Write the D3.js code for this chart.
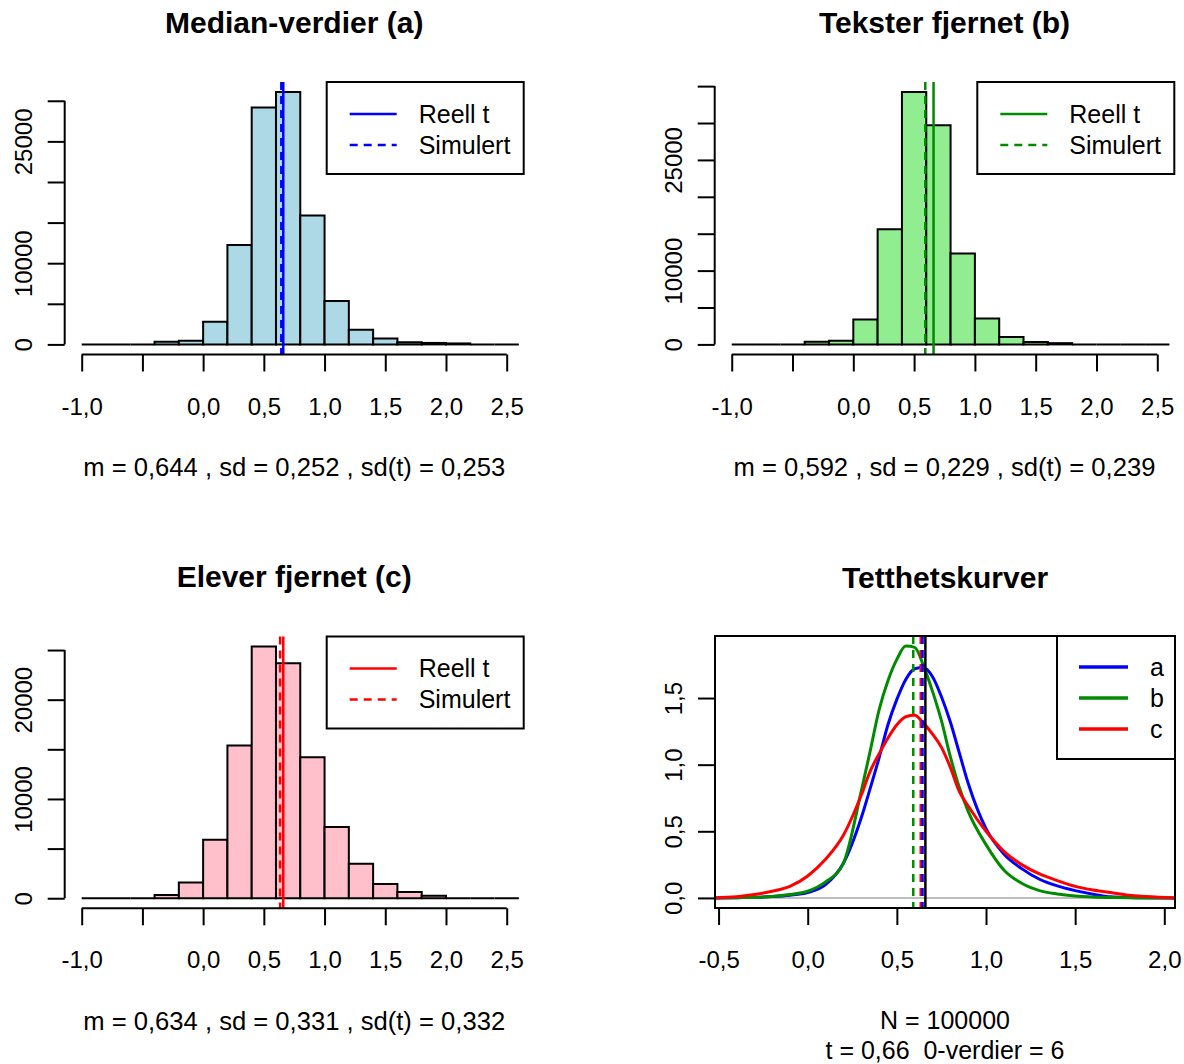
<!DOCTYPE html>
<html>
<head>
<meta charset="utf-8">
<script src="https://cdn.jsdelivr.net/npm/d3@7"></script>
<style>
  body { margin: 0; background: #ffffff; }
  svg text { font-family: "Liberation Sans", Arial, sans-serif; fill: #000; }
</style>
</head>
<body>
<svg id="chart" width="1184" height="1064"></svg>
<script>
// ---- Histogram bins (width 0.2) and counts per scenario ----
const binEdges = [-1.0, -0.8, -0.6, -0.4, -0.2, 0.0, 0.2, 0.4, 0.6, 0.8, 1.0, 1.2, 1.4, 1.6, 1.8, 2.0, 2.2, 2.4, 2.6];
const countsA = [0, 0, 0, 320, 440, 2790, 12240, 29170, 31070, 15860, 5340, 1800, 740, 280, 180, 120, 0, 0];
const countsB = [0, 0, 0, 350, 490, 3380, 15600, 34190, 29690, 12320, 3520, 990, 330, 170, 0, 0, 0, 0];
const countsC = [0, 0, 0, 330, 1580, 5890, 15380, 25350, 23670, 14200, 7170, 3470, 1440, 640, 260, 0, 0, 0];

// ---- Histogram axes ----
const histXTicks = [-1.0, -0.5, 0.0, 0.5, 1.0, 1.5, 2.0, 2.5];
const histXLabels = ["-1,0", "", "0,0", "0,5", "1,0", "1,5", "2,0", "2,5"];
const yTicksA = [0, 5000, 10000, 15000, 20000, 25000, 30000];
const yLabelsA = ["0", "", "10000", "", "", "25000", ""];
const yTicksB = [0, 5000, 10000, 15000, 20000, 25000, 30000, 35000];
const yLabelsB = ["0", "", "10000", "", "", "25000", "", ""];
const yTicksC = [0, 5000, 10000, 15000, 20000, 25000];
const yLabelsC = ["0", "", "10000", "", "20000", ""];

// ---- Summary statistics (a, b, c) ----
const simMeans = [0.644, 0.592, 0.634];
const simSd = [0.252, 0.229, 0.331];
const tSd = [0.253, 0.239, 0.332];
const tReal = 0.66;
const nSim = 100000;
const zeroCount = 6;

// ---- Density curves ----
const densX = [-0.52, -0.4, -0.3, -0.2, -0.1, 0.0, 0.1, 0.2, 0.3, 0.35, 0.4, 0.45, 0.5, 0.55, 0.6, 0.65, 0.7, 0.75, 0.8, 0.85, 0.9, 1.0, 1.1, 1.2, 1.3, 1.4, 1.5, 1.6, 1.7, 1.8, 1.9, 2.06];
const densA = [0, 0.002, 0.005, 0.01, 0.02, 0.04, 0.10, 0.26, 0.60, 0.82, 1.05, 1.30, 1.49, 1.64, 1.72, 1.73, 1.66, 1.51, 1.32, 1.09, 0.86, 0.52, 0.33, 0.22, 0.14, 0.09, 0.055, 0.028, 0.008, 0.003, 0.001, 0];
const densB = [0, 0.002, 0.004, 0.01, 0.025, 0.05, 0.12, 0.26, 0.80, 1.10, 1.41, 1.63, 1.79, 1.89, 1.88, 1.74, 1.55, 1.33, 1.06, 0.83, 0.65, 0.40, 0.21, 0.11, 0.055, 0.03, 0.015, 0.007, 0.003, 0.001, 0, 0];
const densC = [0, 0.008, 0.025, 0.05, 0.087, 0.165, 0.29, 0.47, 0.77, 0.95, 1.08, 1.20, 1.30, 1.36, 1.37, 1.31, 1.23, 1.13, 0.98, 0.80, 0.69, 0.50, 0.35, 0.25, 0.18, 0.13, 0.087, 0.06, 0.04, 0.02, 0.01, 0];
const densXTicks = [-0.5, 0.0, 0.5, 1.0, 1.5, 2.0];
const densXLabels = ["-0,5", "0,0", "0,5", "1,0", "1,5", "2,0"];
const densYTicks = [0.0, 0.5, 1.0, 1.5];
const densYLabels = ["0,0", "0,5", "1,0", "1,5"];
const densNames = ["a", "b", "c"];

// ---- Styling ----
const TICK_FS = 24, TEXT_FS = 25, TITLE_FS = 30, TICK_LEN = 17;
const lineCols = ["#0000FF", "#008B00", "#FF0000"];
const fillCols = ["#ADD8E6", "#90EE90", "#FFC0CB"];
const DASH = "8,6";

const svg = d3.select("#chart");
const comma = (v, d) => d3.format(`.${d}f`)(v).replace(".", ",");

function bottomAxis(g, x, yPos, ticks, labels) {
  const ax = g.append("g").attr("transform", `translate(0,${yPos})`)
    .call(d3.axisBottom(x).tickValues(ticks).tickFormat((d, i) => labels[i])
      .tickSize(TICK_LEN).tickPadding(26));
  ax.select(".domain").remove();
  ax.selectAll("line").attr("stroke", "#000").attr("stroke-width", 2);
  ax.selectAll("text").attr("font-size", TICK_FS).attr("font-family", null);
  g.append("line").attr("x1", x(ticks[0])).attr("x2", x(ticks[ticks.length - 1]))
    .attr("y1", yPos).attr("y2", yPos).attr("stroke", "#000").attr("stroke-width", 2);
}

function leftAxis(g, y, xPos, ticks, labels) {
  const ax = g.append("g").attr("transform", `translate(${xPos},0)`)
    .call(d3.axisLeft(y).tickValues(ticks).tickFormat((d, i) => labels[i]).tickSize(TICK_LEN));
  ax.select(".domain").remove();
  ax.selectAll("line").attr("stroke", "#000").attr("stroke-width", 2);
  ax.selectAll("text").attr("font-size", TICK_FS).attr("font-family", null)
    .attr("x", null).attr("dy", null).attr("text-anchor", "middle")
    .attr("transform", `translate(${-41 + 0.35 * TICK_FS},0) rotate(-90)`);
  g.append("line").attr("x1", xPos).attr("x2", xPos)
    .attr("y1", y(ticks[0])).attr("y2", y(ticks[ticks.length - 1]))
    .attr("stroke", "#000").attr("stroke-width", 2);
}

function legend(g, right, top, w, h, items, opt) {
  const left = right - w;
  g.append("rect").attr("x", left).attr("y", top).attr("width", w).attr("height", h)
    .attr("fill", "#fff").attr("stroke", "#000").attr("stroke-width", 2);
  items.forEach((it, i) => {
    const yy = top + opt.row0 + i * opt.rowStep;
    g.append("line").attr("x1", left + opt.l0).attr("x2", left + opt.l1)
      .attr("y1", yy).attr("y2", yy).attr("stroke", it.color)
      .attr("stroke-width", opt.lw).attr("stroke-dasharray", it.dash || null);
    g.append("text").attr("x", left + opt.tx).attr("y", yy + 0.35 * TEXT_FS)
      .attr("font-size", TEXT_FS).text(it.label);
  });
}

function title(g, cx, cy, txt) {
  g.append("text").attr("x", cx).attr("y", cy + 0.35 * TITLE_FS)
    .attr("text-anchor", "middle").attr("font-size", TITLE_FS).attr("font-weight", "bold").text(txt);
}

function footer(g, cx, cy, txt, fs) {
  g.append("text").attr("x", cx).attr("y", cy + 0.35 * fs)
    .attr("text-anchor", "middle").attr("font-size", fs)
    .style("white-space", "pre").text(txt);
}

// ---- One histogram panel ----
function drawHist(p) {
  const g = svg.append("g");
  const xlim = [histXTicks[0], histXTicks[histXTicks.length - 1]];
  const span = xlim[1] - xlim[0];
  const x = d3.scaleLinear().domain([xlim[0] - 0.04 * span, xlim[1] + 0.04 * span]).range([p.left, p.right]);
  const ymax = d3.max(p.counts);
  const y = d3.scaleLinear().domain([-0.04 * ymax, 1.04 * ymax]).range([p.bottom, p.top]);

  // bars as closed paths so empty bins still show as a flat outline
  const bins = p.counts.map((c, i) => ({ x0: binEdges[i], x1: binEdges[i + 1], c }));
  g.selectAll("path.bar").data(bins).join("path").attr("class", "bar")
    .attr("d", d => {
      const p0 = d3.path();
      p0.moveTo(x(d.x0), y(0));
      p0.lineTo(x(d.x0), y(d.c));
      p0.lineTo(x(d.x1), y(d.c));
      p0.lineTo(x(d.x1), y(0));
      p0.closePath();
      return p0.toString();
    })
    .attr("fill", p.fill).attr("stroke", "#000").attr("stroke-width", 2);

  // real t (solid) and simulated mean (dashed)
  g.append("line").attr("x1", x(tReal)).attr("x2", x(tReal)).attr("y1", p.top).attr("y2", p.bottom)
    .attr("stroke", p.col).attr("stroke-width", 2.5);
  g.append("line").attr("x1", x(p.mean)).attr("x2", x(p.mean)).attr("y1", p.top).attr("y2", p.bottom)
    .attr("stroke", p.col).attr("stroke-width", 2.5).attr("stroke-dasharray", DASH);

  bottomAxis(g, x, p.bottom, histXTicks, histXLabels);
  leftAxis(g, y, p.left, p.yTicks, p.yLabels);

  legend(g, p.right, p.top, 197, 92,
    [{ label: "Reell t", color: p.col }, { label: "Simulert", color: p.col, dash: DASH }],
    { row0: 32, rowStep: 31, l0: 23, l1: 70, tx: 92, lw: 2.5 });

  const cx = (p.left + p.right) / 2;
  title(g, cx, p.top - 60, p.title);
  footer(g, cx, p.bottom + 113,
    `m = ${comma(p.mean, 3)} , sd = ${comma(p.sd, 3)} , sd(t) = ${comma(p.sdt, 3)}`, 25.6);
}

drawHist({ left: 64.7, right: 523.7, top: 82, bottom: 354.5, counts: countsA, fill: fillCols[0], col: lineCols[0],
  mean: simMeans[0], sd: simSd[0], sdt: tSd[0], yTicks: yTicksA, yLabels: yLabelsA, title: "Median-verdier (a)" });
drawHist({ left: 714.7, right: 1174.3, top: 82, bottom: 354.5, counts: countsB, fill: fillCols[1], col: lineCols[1],
  mean: simMeans[1], sd: simSd[1], sdt: tSd[1], yTicks: yTicksB, yLabels: yLabelsB, title: "Tekster fjernet (b)" });
drawHist({ left: 64.7, right: 523.7, top: 636.5, bottom: 908.3, counts: countsC, fill: fillCols[2], col: lineCols[2],
  mean: simMeans[2], sd: simSd[2], sdt: tSd[2], yTicks: yTicksC, yLabels: yLabelsC, title: "Elever fjernet (c)" });

// ---- Density panel ----
(function drawDensity() {
  const L = 715, R = 1175, T = 636, B = 908;
  const g = svg.append("g");
  const x = d3.scaleLinear().domain([densX[0], densX[densX.length - 1]]).range([L, R]);
  const series = [densA, densB, densC];
  const ymax = d3.max(series.flat());
  const y = d3.scaleLinear().domain([-0.04 * ymax, 1.04 * ymax]).range([B, T]);

  g.append("clipPath").attr("id", "dclip").append("rect")
    .attr("x", L).attr("y", T).attr("width", R - L).attr("height", B - T);
  const plot = g.append("g").attr("clip-path", "url(#dclip)");

  plot.append("line").attr("x1", L).attr("x2", R).attr("y1", y(0)).attr("y2", y(0))
    .attr("stroke", "#BEBEBE").attr("stroke-width", 2);

  const line = d3.line().x((d, i) => x(densX[i])).y(d => y(d)).curve(d3.curveMonotoneX);
  series.forEach((s, k) => {
    plot.append("path").attr("d", line(s)).attr("fill", "none")
      .attr("stroke", lineCols[k]).attr("stroke-width", 3).attr("stroke-linejoin", "round");
  });

  // simulated means (dashed) in order b, c, a, then real t
  [1, 2, 0].forEach(k => {
    plot.append("line").attr("x1", x(simMeans[k])).attr("x2", x(simMeans[k])).attr("y1", T).attr("y2", B)
      .attr("stroke", lineCols[k]).attr("stroke-width", 2.5).attr("stroke-dasharray", DASH);
  });
  plot.append("line").attr("x1", x(tReal)).attr("x2", x(tReal)).attr("y1", T).attr("y2", B)
    .attr("stroke", "#000").attr("stroke-width", 2.5);

  g.append("rect").attr("x", L).attr("y", T).attr("width", R - L).attr("height", B - T)
    .attr("fill", "none").attr("stroke", "#000").attr("stroke-width", 2);

  bottomAxis(g, x, B, densXTicks, densXLabels);
  leftAxis(g, y, L, densYTicks, densYLabels);

  legend(g, R, T, 118, 123,
    densNames.map((n, k) => ({ label: n, color: lineCols[k] })),
    { row0: 31, rowStep: 31, l0: 22, l1: 71, tx: 93, lw: 3.5 });

  const cx = (L + R) / 2;
  title(g, cx, T - 59, "Tetthetskurver");
  footer(g, cx, 1020, `N = ${nSim}`, TEXT_FS);
  footer(g, cx, 1050, `t = ${comma(tReal, 2)}  0-verdier = ${zeroCount}`, TEXT_FS);
})();
</script>
</body>
</html>
